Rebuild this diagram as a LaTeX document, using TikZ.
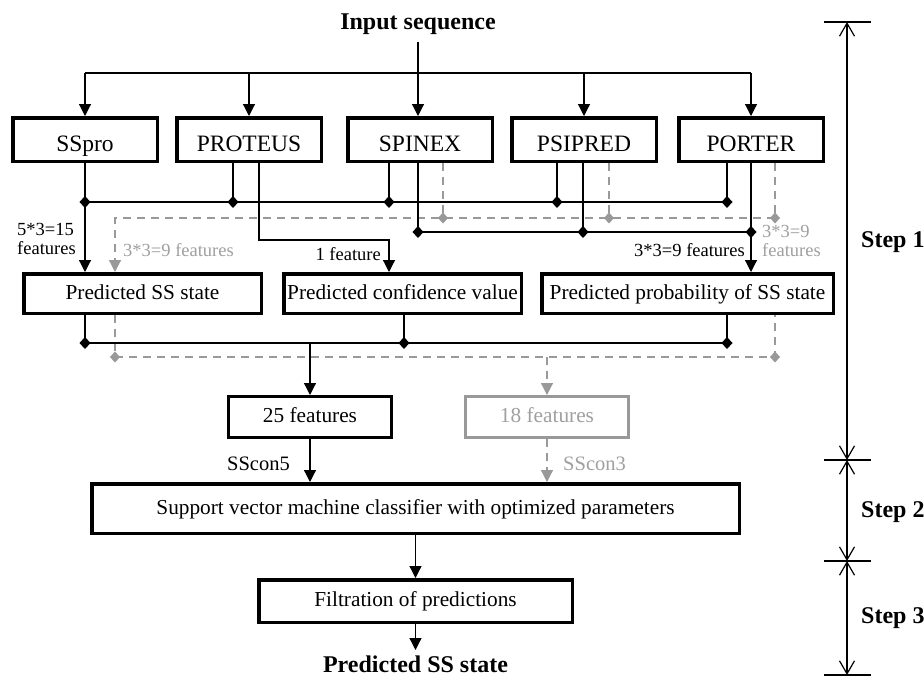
\documentclass[tikz,border=0pt]{standalone}
\usepackage{fontspec}
\setmainfont{Liberation Serif}
\usetikzlibrary{arrows.meta}
\definecolor{gline}{HTML}{999999}
\definecolor{gtext}{HTML}{A0A0A0}
\begin{document}
\begin{tikzpicture}[x=1pt,y=-1pt,
  box/.style={draw, line width=3.5pt, inner sep=0pt, align=center},
  toprow/.style={box, minimum width=144.5pt, minimum height=43.5pt, text height=23pt, text depth=0pt, font=\fontsize{23.5}{28}\selectfont},
  midrow/.style={box, minimum height=39.5pt, text height=11pt, text depth=0pt, font=\fontsize{21.3}{26}\selectfont},
  ln/.style={line width=1.2pt},
  arr/.style={ln, -{Triangle[length=12pt,width=12pt]}},
  gln/.style={line width=1.2pt, gline, dash pattern=on 8pt off 6pt},
  garr/.style={gln, -{Triangle[length=12pt,width=12pt]}},
  lab/.style={font=\fontsize{18.5}{21}\selectfont, inner sep=0pt},
  glab/.style={lab, text=gtext},
  boldlab/.style={font=\fontsize{24}{28}\selectfont\bfseries, inner sep=0pt},
  barbs/.style={ln, {Straight Barb[length=13pt,width=15pt]}-{Straight Barb[length=13pt,width=15pt]}}
]
\fill[white] (0,0) rectangle (924,678);
\useasboundingbox (0,0) rectangle (924,678);
\newcommand\bdia[1]{\fill[black] (#1) +(-5.5,0) -- +(0,-6) -- +(5.5,0) -- +(0,6) -- cycle;}
\newcommand\gdia[1]{\fill[gline] (#1) +(-5,0) -- +(0,-5.5) -- +(5,0) -- +(0,5.5) -- cycle;}

% title
\node[boldlab, anchor=base] (in) at (418,29.5) {Input sequence};
\coordinate (inbot) at (418,42);

% row 1
\node[toprow] (sspro) at (85,139.5) {SSpro};
\node[toprow] (proteus) at (249,139.5) {PROTEUS};
\node[toprow] (spinex) at (420,139.5) {SPINEX};
\node[toprow] (psipred) at (584,139.5) {PSIPRED};
\node[toprow] (porter) at (751,139.5) {PORTER};

% row 2
\node[midrow, minimum width=237.5pt] (ssstate) at (142.5,293.5) {Predicted SS state};
\node[midrow, minimum width=237.5pt] (conf) at (402.5,293.5) {Predicted confidence value};
\node[midrow, minimum width=291.5pt] (prob) at (687.5,293.5) {Predicted probability of SS state};

% feature boxes
\node[box, line width=3pt, minimum width=163pt, minimum height=41pt, text height=11pt, text depth=0pt, font=\fontsize{21.3}{26}\selectfont] (f25) at (310,417) {25 features};
\node[box, line width=3pt, draw=gline, text=gtext, minimum width=163pt, minimum height=41pt, text height=11pt, text depth=0pt, font=\fontsize{21.3}{26}\selectfont] (f18) at (547,417) {18 features};

% svm, filtration, output
\node[box, minimum width=647.5pt, minimum height=49.5pt, text height=11pt, text depth=0pt, font=\fontsize{21.3}{26}\selectfont] (svm) at (415.5,508.5) {Support vector machine classifier with optimized parameters};
\node[box, minimum width=313.5pt, minimum height=42.5pt, text height=11pt, text depth=0pt, font=\fontsize{21.3}{26}\selectfont] (filt) at (415.5,601) {Filtration of predictions};
\node[boldlab, anchor=base] (out) at (415.5,672) {Predicted SS state};
\coordinate (outtip) at (415.5,650);

% top distribution
\coordinate (tb) at (0,73);
\draw[ln] (sspro.north |- tb) -- (porter.north |- tb);
\draw[arr] (inbot) -- (inbot |- spinex.north);
\foreach \n in {sspro,proteus,psipred,porter} \draw[arr] (\n.north |- tb) -- (\n.north);

% gray bus y=218
\coordinate (g0) at (115,218);
\coordinate (g1) at (443,218);
\coordinate (g2) at (609,218);
\coordinate (g3) at (775,218);
\draw[gln] (g1 |- spinex.south) -- (g1);
\draw[gln] (g2 |- psipred.south) -- (g2);
\draw[gln] (g3 |- porter.south) -- (g3);
\draw[garr] (g3) -- (g0) -- (g0 |- ssstate.north);
\gdia{g1}\gdia{g2}\gdia{g3}

% bus A y=202
\coordinate (a1) at (85,202);
\coordinate (a2) at (233,202);
\coordinate (a3) at (389,202);
\coordinate (a4) at (557,202);
\coordinate (a5) at (727,202);
\draw[ln] (a1) -- (a5);
\draw[ln] (a2 |- proteus.south) -- (a2);
\draw[ln] (a3 |- spinex.south) -- (a3);
\draw[ln] (a4 |- psipred.south) -- (a4);
\draw[ln] (a5 |- porter.south) -- (a5);
\draw[arr] (sspro.south) -- (sspro.south |- ssstate.north);

% bus B y=232
\coordinate (b1) at (418,232);
\coordinate (b2) at (583,232);
\coordinate (b3) at (751,232);
\draw[ln] (b1) -- (b3);
\draw[ln] (b1 |- spinex.south) -- (b1);
\draw[ln] (b2 |- psipred.south) -- (b2);
\draw[arr] (b3 |- porter.south) -- (b3 |- prob.north);

% 1 feature
\coordinate (c1) at (259,240);
\coordinate (c2) at (389,240);
\draw[arr] (c1 |- proteus.south) -- (c1) -- (c2) -- (c2 |- conf.north);

\bdia{a1}\bdia{a2}\bdia{a3}\bdia{a4}\bdia{a5}
\bdia{b1}\bdia{b2}\bdia{b3}

% labels row 1 -> row 2
\node[lab, anchor=base west] (l15a) at (17,235) {5*3=15};
\node[lab, anchor=base west] (l15b) at (17,254) {features};
\node[glab, anchor=base west] (l9g) at (123,256) {3*3=9 features};
\node[lab, anchor=base east] (l1) at (381,260) {1 feature};
\node[lab, anchor=base east] (l9b) at (745,256) {3*3=9 features};
\node[glab, anchor=base west] (l9c) at (762,237) {3*3=9};
\node[glab, anchor=base west] (l9d) at (762,256) {features};

% below row 2: gray
\coordinate (e1) at (115,357);
\coordinate (e2) at (775,357);
\coordinate (e3) at (547,357);
\draw[gln] (e1 |- ssstate.south) -- (e1) -- (e2) -- (e2 |- prob.south);
\draw[garr] (e3) -- (e3 |- f18.north);
\gdia{e1}\gdia{e2}

% below row 2: black
\coordinate (d1) at (85,343);
\coordinate (d2) at (404,343);
\coordinate (d3) at (727,343);
\coordinate (d4) at (310,343);
\draw[ln] (d1 |- ssstate.south) -- (d1) -- (d3) -- (d3 |- prob.south);
\draw[ln] (d2 |- conf.south) -- (d2);
\draw[arr] (d4) -- (d4 |- f25.north);
\bdia{d1}\bdia{d2}\bdia{d3}

% to svm
\draw[arr] (f25.south) -- (f25.south |- svm.north);
\draw[garr] (f18.south) -- (f18.south |- svm.north);
\node[lab, font=\fontsize{20.5}{24}\selectfont, anchor=base east] (sc5) at (290,470) {SScon5};
\node[glab, font=\fontsize{20.5}{24}\selectfont, anchor=base west] (sc3) at (563,470) {SScon3};

\draw[arr] (svm.south) -- (filt.north);
\draw[arr] (filt.south) -- (outtip);

% step bracket
\coordinate (s0) at (847,22);
\coordinate (s1) at (847,460);
\coordinate (s2) at (847,561);
\coordinate (s3) at (847,675);
\foreach \s in {s0,s1,s2,s3} \draw[ln] (\s) +(-23,0) -- +(24,0);
\draw[barbs] (s0) -- (s1);
\draw[barbs] (s1) -- (s2);
\draw[barbs] (s2) -- (s3);
\node[boldlab, anchor=base west] (st1) at (861,247) {Step 1};
\node[boldlab, anchor=base west] (st2) at (861,517) {Step 2};
\node[boldlab, anchor=base west] (st3) at (861,623) {Step 3};
\end{tikzpicture}
\end{document}
